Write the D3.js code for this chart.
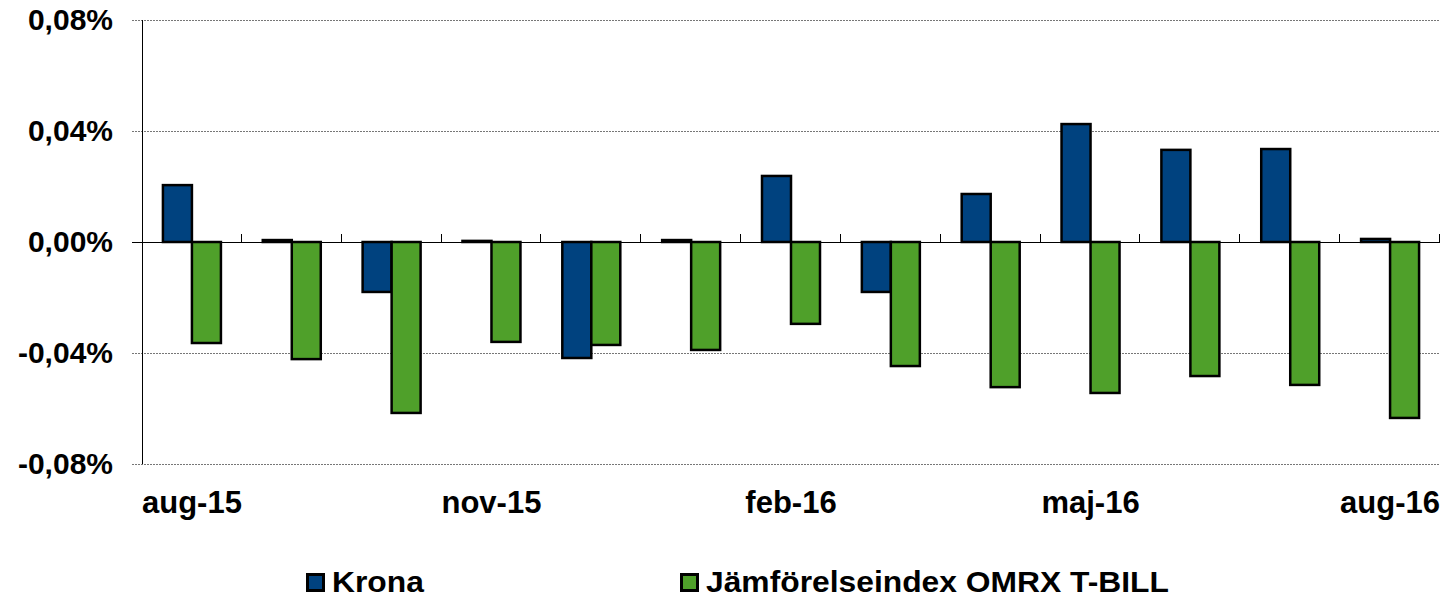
<!DOCTYPE html>
<html>
<head>
<meta charset="utf-8">
<script src="https://cdn.jsdelivr.net/npm/d3@7"></script>
<style>
  body { margin: 0; background: #fff; }
  text { font-family: "Liberation Sans", Arial, sans-serif; font-weight: bold; fill: #000; }
</style>
</head>
<body>
<div id="chart"></div>
<script>
// months shown on the x axis (only every third one is labelled)
var months = ["aug-15", "sep-15", "okt-15", "nov-15", "dec-15", "jan-16", "feb-16",
  "mar-16", "apr-16", "maj-16", "jun-16", "jul-16", "aug-16"];
var labelled = ["aug-15", "nov-15", "feb-16", "maj-16", "aug-16"];

// monthly returns in percent
var krona = [0.0205, 0.0007, -0.0180, 0.0004, -0.0418, 0.0007, 0.0238,
  -0.0180, 0.0173, 0.0425, 0.0332, 0.0335, 0.0011];
var omrx = [-0.0364, -0.0422, -0.0616, -0.0360, -0.0371, -0.0389, -0.0295,
  -0.0447, -0.0523, -0.0544, -0.0483, -0.0515, -0.0634];

var yTicks = [-0.08, -0.04, 0, 0.04, 0.08];
var seriesNames = ["Krona", "Jämförelseindex OMRX T-BILL"];
var colors = ["#00427f", "#4fa02a"];

var width = 1449, height = 598;
var plotLeft = 142, plotRight = 1440, plotTop = 20, plotBottom = 464;

var svg = d3.select("#chart").append("svg")
  .attr("width", width)
  .attr("height", height);

var x = d3.scaleBand().domain(months).range([plotLeft, plotRight]);
var y = d3.scaleLinear().domain([-0.08, 0.08]).range([plotBottom, plotTop]);

var fmt = function (d) { return d3.format(".2f")(d).replace(".", ",").replace("−", "-") + "%"; };

// gridlines
svg.append("g")
  .selectAll("line")
  .data(yTicks.filter(function (d) { return d !== 0; }))
  .enter().append("line")
  .attr("x1", plotLeft - 10).attr("x2", plotRight)
  .attr("y1", function (d) { return y(d) + 0.5; })
  .attr("y2", function (d) { return y(d) + 0.5; })
  .attr("stroke", "#777")
  .attr("stroke-dasharray", "2,1");

// left axis
svg.append("line")
  .attr("x1", plotLeft + 0.5).attr("x2", plotLeft + 0.5)
  .attr("y1", plotTop).attr("y2", plotBottom)
  .attr("stroke", "#000");

svg.append("g")
  .selectAll("text")
  .data(yTicks)
  .enter().append("text")
  .attr("x", 113)
  .attr("y", function (d) { return y(d) + 10; })
  .attr("text-anchor", "end")
  .attr("font-size", 30)
  .text(fmt);

// bars
var inner = d3.scaleBand().domain([0, 1]).range([0, 58]);
var series = [krona, omrx];
series.forEach(function (vals, s) {
  svg.append("g")
    .selectAll("rect")
    .data(vals)
    .enter().append("rect")
    .attr("x", function (d, i) { return x(months[i]) + x.bandwidth() / 2 - 29 + inner(s); })
    .attr("width", inner.bandwidth())
    .attr("y", function (d) { return Math.min(y(d), y(0)); })
    .attr("height", function (d) { return Math.max(Math.abs(y(d) - y(0)), 1); })
    .attr("fill", colors[s])
    .attr("stroke", "#000")
    .attr("stroke-width", 2.5);
});

// zero axis with tick marks between months
svg.append("line")
  .attr("x1", plotLeft - 10).attr("x2", plotRight)
  .attr("y1", y(0) + 0.5).attr("y2", y(0) + 0.5)
  .attr("stroke", "#000");

svg.append("g")
  .selectAll("line")
  .data(months)
  .enter().append("line")
  .attr("x1", function (d) { return Math.round(x(d) + x.step()) - 0.5; })
  .attr("x2", function (d) { return Math.round(x(d) + x.step()) - 0.5; })
  .attr("y1", y(0) - 8).attr("y2", y(0))
  .attr("stroke", "#000");

svg.append("g")
  .selectAll("text")
  .data(labelled)
  .enter().append("text")
  .attr("x", function (d) { return x(d) + x.bandwidth() / 2; })
  .attr("y", 513)
  .attr("text-anchor", "middle")
  .attr("font-size", 31)
  .text(function (d) { return d; });

// legend
var legendX = [306, 680];
var legend = svg.append("g")
  .selectAll("g")
  .data(seriesNames)
  .enter().append("g")
  .attr("transform", function (d, i) { return "translate(" + legendX[i] + ",573)"; });

legend.append("rect")
  .attr("x", 1.5).attr("y", 1.5)
  .attr("width", 16).attr("height", 16)
  .attr("fill", function (d, i) { return colors[i]; })
  .attr("stroke", "#000")
  .attr("stroke-width", 3);

legend.append("text")
  .attr("transform", "translate(26,19) scale(1.06,1)")
  .attr("font-size", 30)
  .text(function (d) { return d; });
</script>
</body>
</html>
